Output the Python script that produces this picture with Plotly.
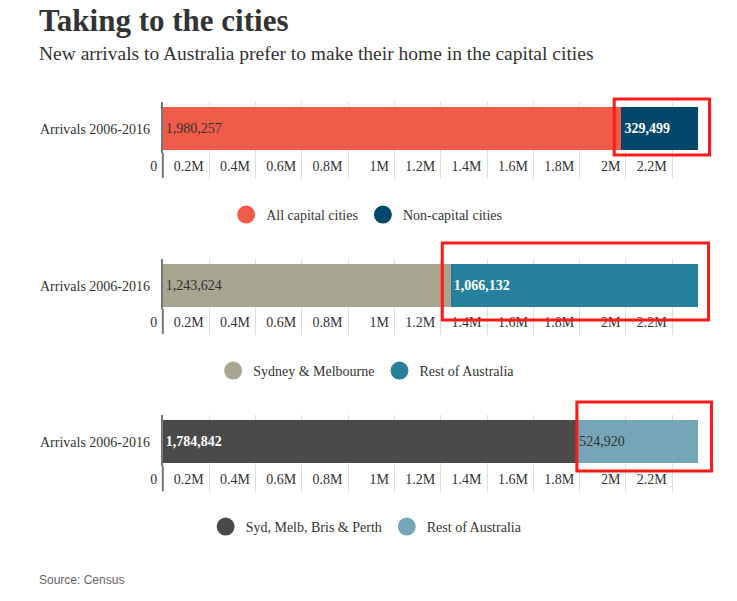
import plotly.graph_objects as go

category = ["Arrivals 2006-2016"]

# chart 1
cap_label = "All capital cities"
cap_values = [1980257]
noncap_label = "Non-capital cities"
noncap_values = [329499]
# chart 2
sydmel_label = "Sydney & Melbourne"
sydmel_values = [1243624]
rest2_label = "Rest of Australia"
rest2_values = [1066132]
# chart 3
four_label = "Syd, Melb, Bris & Perth"
four_values = [1784842]
rest3_label = "Rest of Australia"
rest3_values = [524920]

tick_vals = [0, 200000, 400000, 600000, 800000, 1000000, 1200000, 1400000,
             1600000, 1800000, 2000000, 2200000]
tick_text = ["0", "0.2M", "0.4M", "0.6M", "0.8M", "1M", "1.2M", "1.4M",
             "1.6M", "1.8M", "2M", "2.2M"]

W, H = 737, 601
SERIF = "Liberation Serif, Times New Roman, serif"

def py(px):
    return 1 - px / H

def pxx(px):
    return px / W

fig = go.Figure()

charts = [
    dict(series=[(cap_label, cap_values, "#F15B4A", "#333333", "normal"),
                 (noncap_label, noncap_values, "#03476A", "#FFFFFF", "bold")],
         top=102, bottom=153, legend_y=215),
    dict(series=[(sydmel_label, sydmel_values, "#A8A590", "#333333", "normal"),
                 (rest2_label, rest2_values, "#27809B", "#FFFFFF", "bold")],
         top=259, bottom=309, legend_y=371),
    dict(series=[(four_label, four_values, "#4A4A4A", "#FFFFFF", "bold"),
                 (rest3_label, rest3_values, "#74A6B7", "#333333", "normal")],
         top=415, bottom=466, legend_y=527),
]

x_left, x_right = 152.5, 710
px_per_unit = (697 - x_left) / 2309756
x_max = (x_right - x_left) / px_per_unit

layout_upd = {}
for i, ch in enumerate(charts):
    n = i + 1
    xa = "x" if n == 1 else f"x{n}"
    ya = "y" if n == 1 else f"y{n}"
    leg = "legend" if n == 1 else f"legend{n}"
    for name, vals, col, tcol, tw in ch["series"]:
        fig.add_trace(go.Bar(
            x=vals, y=category, orientation="h", name=name,
            marker=dict(color=col, line=dict(width=0)),
            width=1,
            text=[f"{v:,}" for v in vals], texttemplate="%{text}",
            textposition="inside", insidetextanchor="start",
            textfont=dict(family=SERIF, size=14, color=tcol, weight=tw),
            xaxis=xa, yaxis=ya, showlegend=False, hoverinfo="skip",
        ))
        fig.add_trace(go.Scatter(
            x=[None], y=[None], mode="markers", name=name,
            marker=dict(color=col, size=16, symbol="circle",
                        line=dict(color=col, width=2)),
            xaxis=xa, yaxis=ya, legend=leg, showlegend=True,
        ))
    span = ch["bottom"] - ch["top"]
    bar_px = 43.4
    top_r = 0.5 + 5 / bar_px
    bot_r = top_r - span / bar_px
    xkey = "xaxis" if n == 1 else f"xaxis{n}"
    ykey = "yaxis" if n == 1 else f"yaxis{n}"
    layout_upd[xkey] = dict(
        domain=[pxx(x_left), pxx(x_right)], range=[0, x_max], anchor=ya,
        tickvals=tick_vals, ticktext=tick_text,
        ticks="outside", ticklen=25, tickcolor="#DDDDDD", tickwidth=1,
        ticklabelposition="outside left", ticklabelshift=-5,
        showgrid=True, gridcolor="#DDDDDD", gridwidth=1,
        zeroline=False, showline=False,
        tickfont=dict(family=SERIF, size=14, color="#333333"),
        fixedrange=True,
    )
    layout_upd[ykey] = dict(
        domain=[py(ch["bottom"]), py(ch["top"])], range=[bot_r, top_r],
        anchor=xa, type="category",
        showline=True, linecolor="#777777", linewidth=2,
        showgrid=False, zeroline=False, ticks="",
        ticklabelstandoff=8,
        tickfont=dict(family=SERIF, size=14, color="#333333"),
        fixedrange=True,
    )
    layout_upd[leg] = dict(
        orientation="h", x=pxx(360), xanchor="center",
        y=py(ch["legend_y"]), yanchor="middle", traceorder="normal",
        font=dict(family=SERIF, size=14, color="#333333"),
        bgcolor="rgba(0,0,0,0)", itemsizing="trace",
    )

fig.update_layout(**layout_upd)
fig.update_layout(barmode="stack")

shapes = []
for ch in charts:
    shapes.append(dict(type="line", xref="paper", yref="paper",
                       x0=pxx(x_left), x1=pxx(x_left),
                       y0=py(ch["bottom"]), y1=py(ch["bottom"] + 25),
                       line=dict(color="#777777", width=2)))
# red highlight boxes
for (x0, y0, x1, y1) in [(612, 99, 709, 155), (437, 243, 708, 320), (574, 402, 711, 471)]:
    shapes.append(dict(type="rect", xref="paper", yref="paper",
                       x0=pxx(x0), x1=pxx(x1), y0=py(y1), y1=py(y0),
                       line=dict(color="#FF1A1A", width=3),
                       fillcolor="rgba(0,0,0,0)"))

fig.update_layout(
    width=W, height=H,
    margin=dict(l=0, r=0, t=0, b=0),
    paper_bgcolor="white", plot_bgcolor="white",
    shapes=shapes,
    annotations=[
        dict(text="<b>Taking to the cities</b>", xref="paper", yref="paper",
             x=pxx(24), y=py(40), xanchor="left", yanchor="bottom",
             showarrow=False, font=dict(family=SERIF, size=31, color="#333333")),
        dict(text="New arrivals to Australia prefer to make their home in the capital cities",
             xref="paper", yref="paper", x=pxx(24), y=py(66), xanchor="left",
             yanchor="bottom", showarrow=False,
             font=dict(family=SERIF, size=19.5, color="#333333")),
        dict(text="Source: Census", xref="paper", yref="paper",
             x=pxx(24), y=py(580), xanchor="left", yanchor="middle",
             showarrow=False,
             font=dict(family="Liberation Sans, Arial, sans-serif", size=12, color="#666666")),
    ],
)

fig.write_html("out.html", config={"displayModeBar": False},
               post_script="document.body.style.margin='0';")
